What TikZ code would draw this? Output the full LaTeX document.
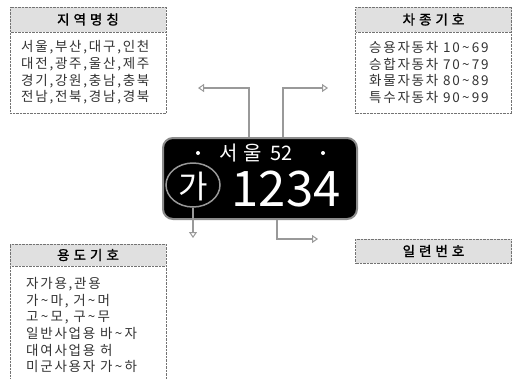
\documentclass[tikz,border=0pt]{standalone}
\usepackage{fontspec}
\newfontfamily\kr[AutoFakeBold=1.5]{Noto Sans CJK KR}
\newfontfamily\krsp[LetterSpace=13]{Noto Sans CJK KR}
\newcommand\tld{\,\textasciitilde\,}
\usetikzlibrary{arrows.meta,shapes.geometric}
\begin{document}
\begin{tikzpicture}[x=1pt,y=-1pt,
  titlebox/.style={draw=black!55, densely dotted, fill=black!12, minimum width=156pt, inner sep=0pt, font=\kr\bfseries\fontsize{13.5}{15}\selectfont},
  bodybox/.style={draw=black!55, densely dotted, fill=white, minimum width=156pt, inner sep=0pt},
  bodytext/.style={inner sep=0pt, text=black!80, font=\krsp\fontsize{13.5}{16.7}\selectfont, align=left},
  conn/.style={draw=black!40, line width=2pt, -{Triangle[open, length=6pt, width=8pt, line width=1pt]}},
  platetext/.style={text=white, inner sep=0pt},
]
\useasboundingbox (0,0) rectangle (512,378);
\fill[white] (0,0) rectangle (512,378);

% top-left box
\node[titlebox, minimum height=25pt] (t1) at (88,19.5) {지\kern4pt 역\kern4pt 명\kern4pt 칭};
\node[bodybox, minimum height=81pt, anchor=north] (b1) at (t1.south) {};
\node[bodytext, anchor=west] (x1) at (21,72.5) {서울,부산,대구,인천\\대전,광주,울산,제주\\경기,강원,충남,충북\\전남,전북,경남,경북};

% top-right box
\node[titlebox, minimum height=25pt] (t2) at (433.5,19.5) {차\kern4pt 종\kern4pt 기\kern4pt 호};
\node[bodybox, minimum height=81pt, anchor=north] (b2) at (t2.south) {};
\node[bodytext, anchor=west] (x2) at (369,72.5) {승용자동차 10\tld{}69\\승합자동차 70\tld{}79\\화물자동차 80\tld{}89\\특수자동차 90\tld{}99};

% bottom-left box
\node[titlebox, minimum height=22pt] (t3) at (88,255) {용\kern4pt 도\kern4pt 기\kern4pt 호};
\node[bodybox, minimum height=120pt, anchor=north] (b3) at (t3.south) {};
\node[bodytext, anchor=west] (x3) at (26,325) {자가용,관용\\가\tld{}마, 거\tld{}머\\고\tld{}모, 구\tld{}무\\일반사업용 바\tld{}자\\대여사업용 허\\미군사용자 가\tld{}하};

% bottom-right box
\node[titlebox, minimum height=24pt] (t4) at (433.5,251) {일\kern4pt 련\kern4pt 번\kern4pt 호};

% plate
\node[draw=black!45, line width=2pt, fill=black, rounded corners=10pt, minimum width=194pt, minimum height=81pt] (plate) at (260,178.5) {};
\node[platetext, anchor=base, text depth=0pt, font=\kr\fontsize{20}{20}\selectfont] (p1) at (256,160) {서\kern6pt 울\kern8pt 52};
\fill[white] (198,153) circle (2pt);
\fill[white] (323,153) circle (2pt);
\node[platetext, font=\kr\fontsize{32}{32}\selectfont] (ga) at (193,186) {가};
\node[platetext, anchor=base, text height=36pt, text depth=0pt, font=\kr\fontsize{49}{49}\selectfont] (num) at (286,206) {1234};
\node[draw=black!40, line width=1.5pt, ellipse, minimum width=54pt, minimum height=44pt] (circ) at (193,185) {};

% connectors
\coordinate (e1) at (198,88);
\coordinate (e2) at (328,88);
\coordinate (e3) at (193,238);
\coordinate (e4) at (318,239);
\draw[conn] ([xshift=-11pt]plate.north) |- (e1);
\draw[conn] ([xshift=23pt]plate.north) |- (e2);
\draw[conn] (circ.south) -- (e3);
\draw[conn] ([xshift=17pt]plate.south) |- (e4);
\end{tikzpicture}
\end{document}
